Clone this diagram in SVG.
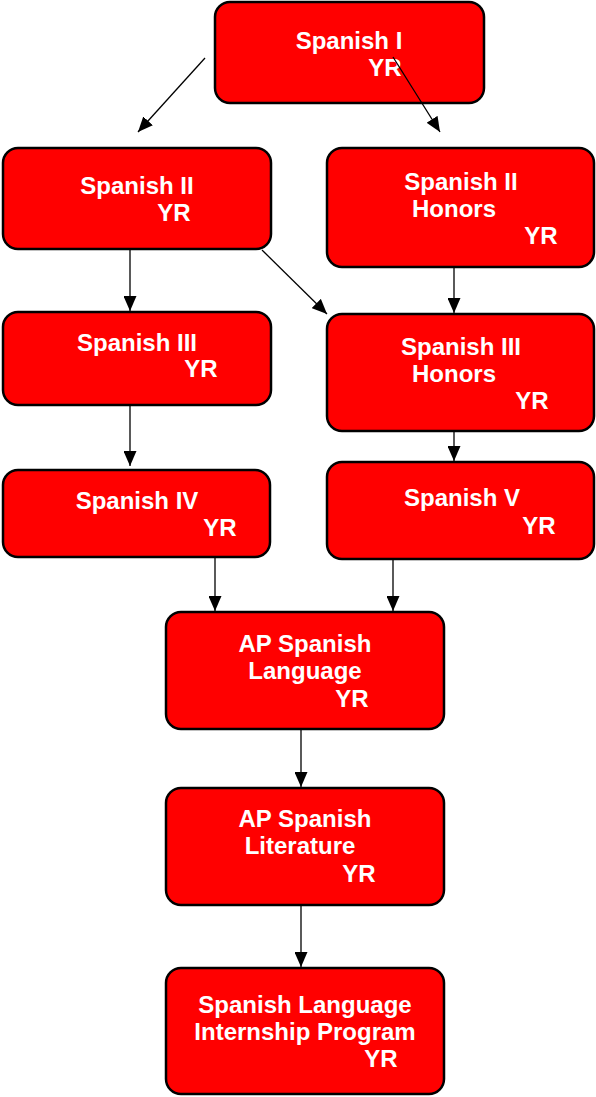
<svg xmlns="http://www.w3.org/2000/svg" width="596" height="1097" viewBox="0 0 596 1097">
<style>
.box{fill:#ff0000;stroke:#000;stroke-width:2.5}
.t{font-family:"Liberation Sans",Arial,sans-serif;font-weight:bold;font-size:24px;fill:#fff;text-anchor:middle}
.c{stroke:#000;stroke-width:1.3;fill:none;marker-end:url(#ah)}
</style>
<defs>
<marker id="ah" viewBox="0 0 15 13" refX="15" refY="6.5" markerWidth="15" markerHeight="13" markerUnits="userSpaceOnUse" orient="auto">
<path d="M0,0 L15,6.5 L0,13 Z" fill="#000"/>
</marker>
</defs>
<rect width="596" height="1097" fill="#fff"/>
<g id="n1"><rect class="box" x="215" y="2" width="269" height="101" rx="15"/>
<text class="t" x="349" y="49">Spanish I</text><text class="t" x="385" y="76">YR</text></g>
<g id="n2"><rect class="box" x="3" y="148" width="268" height="101" rx="15"/>
<text class="t" x="137" y="194">Spanish II</text><text class="t" x="174" y="221">YR</text></g>
<g id="n3"><rect class="box" x="327" y="148" width="267" height="119" rx="15"/>
<text class="t" x="461" y="190">Spanish II</text><text class="t" x="454" y="217">Honors</text><text class="t" x="541" y="244">YR</text></g>
<g id="n4"><rect class="box" x="3" y="312" width="268" height="93" rx="15"/>
<text class="t" x="137" y="351">Spanish III</text><text class="t" x="201" y="377">YR</text></g>
<g id="n5"><rect class="box" x="327" y="314" width="267" height="117" rx="15"/>
<text class="t" x="461" y="355">Spanish III</text><text class="t" x="454" y="382">Honors</text><text class="t" x="532" y="409">YR</text></g>
<g id="n6"><rect class="box" x="3" y="470" width="267" height="87" rx="15"/>
<text class="t" x="137" y="509">Spanish IV</text><text class="t" x="220" y="536">YR</text></g>
<g id="n7"><rect class="box" x="327" y="462" width="267" height="97" rx="15"/>
<text class="t" x="462" y="506">Spanish V</text><text class="t" x="539" y="534">YR</text></g>
<g id="n8"><rect class="box" x="166" y="612" width="278" height="117" rx="15"/>
<text class="t" x="305" y="652">AP Spanish</text><text class="t" x="305" y="679">Language</text><text class="t" x="352" y="707">YR</text></g>
<g id="n9"><rect class="box" x="166" y="788" width="278" height="117" rx="15"/>
<text class="t" x="305" y="827">AP Spanish</text><text class="t" x="300" y="854">Literature</text><text class="t" x="359" y="882">YR</text></g>
<g id="n10"><rect class="box" x="166" y="968" width="278" height="126" rx="15"/>
<text class="t" x="305" y="1013">Spanish Language</text><text class="t" x="305" y="1040">Internship Program</text><text class="t" x="381" y="1067">YR</text></g>
<g id="connectors">
<line class="c" x1="205" y1="58" x2="138" y2="132"/>
<line class="c" x1="393" y1="57" x2="440" y2="132"/>
<line class="c" x1="130" y1="249" x2="130" y2="311"/>
<line class="c" x1="262" y1="250" x2="327" y2="314"/>
<line class="c" x1="454" y1="267" x2="454" y2="313"/>
<line class="c" x1="130" y1="405" x2="130" y2="466"/>
<line class="c" x1="454" y1="431" x2="454" y2="461"/>
<line class="c" x1="215" y1="557" x2="215" y2="611"/>
<line class="c" x1="393" y1="559" x2="393" y2="611"/>
<line class="c" x1="301" y1="729" x2="301" y2="787"/>
<line class="c" x1="301" y1="905" x2="301" y2="967"/>
</g>
</svg>
